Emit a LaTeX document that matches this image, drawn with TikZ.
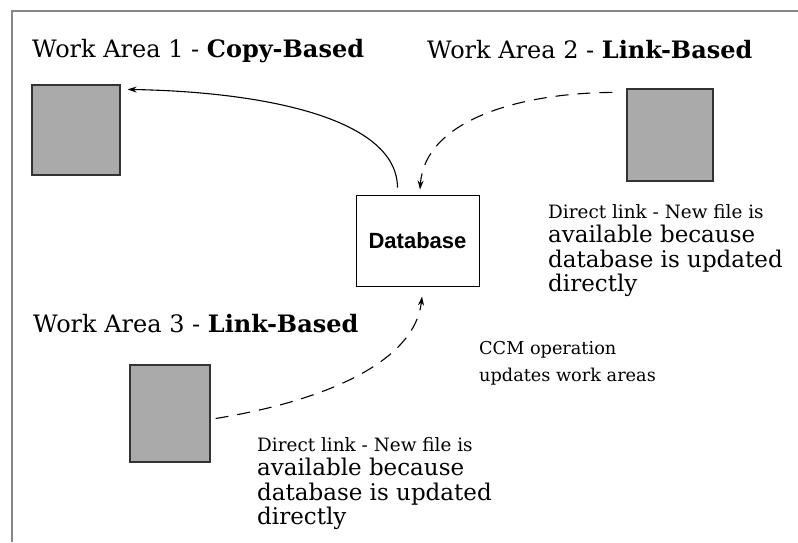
\documentclass[tikz,border=0pt]{standalone}
\usepackage{fontspec}
\setmainfont{DejaVu Serif}
\newfontfamily\dbfont{Liberation Sans}
\usepackage{tikz}
\usetikzlibrary{arrows.meta}
\definecolor{framegray}{RGB}{135,135,135}
\definecolor{areagray}{RGB}{170,170,170}
\tikzstyle{title} = [anchor=base west, inner sep=0pt, font=\fontsize{24}{28}\selectfont]
\tikzstyle{area} = [rectangle, draw=black!80, fill=areagray, line width=1.2pt]
\tikzstyle{store} = [rectangle, draw=black, fill=white, line width=1pt, minimum width=123pt, minimum height=91pt, font=\dbfont\bfseries\fontsize{22}{24}\selectfont]
\tikzstyle{note} = [anchor=north west, inner sep=0pt, align=left, font=\fontsize{23}{24.5}\selectfont]
\tikzstyle{copyarrow} = [line width=1.1pt, -{Stealth[length=9pt,width=6pt]}]
\tikzstyle{linkarrow} = [line width=1.1pt, dash pattern=on 13pt off 9pt, -{Stealth[length=9pt,width=6pt]}]

\begin{document}
\begin{tikzpicture}[x=1pt, y=-1pt]
\useasboundingbox (0,0) rectangle (798,542);
% outer frame, cut off on the right and at the bottom
\draw[framegray, line width=2.2pt] (12,542) -- (12,11) -- (798,11);

% titles
\node (t1) [title] at (32,57) {Work Area 1 - \textbf{Copy-Based}};
\node (t2) [title] at (427,58) {Work Area 2 - \textbf{Link-Based}};
\node (t3) [title] at (33,332) {Work Area 3 - \textbf{Link-Based}};

% work areas and the database
\node (wa1) [area, minimum width=88pt, minimum height=90pt] at (76,130) {};
\node (wa2) [area, minimum width=86pt, minimum height=92pt] at (670,135) {};
\node (wa3) [area, minimum width=80pt, minimum height=97pt] at (170,413.5) {};
\node (db) [store] at (417.5,240.5) {Database};

% notes
\node (n2) [note] at (548,204) {{\fontsize{18.4}{22}\selectfont Direct link - New file is}\\available because\\database is updated\\directly};
\node (n3) [note] at (257,437) {{\fontsize{18.4}{22}\selectfont Direct link - New file is}\\available because\\database is updated\\directly};
\node (ccm) [note, font=\fontsize{17.7}{27}\selectfont] at (479,341) {CCM operation\\updates work areas};

% connectors
\draw [copyarrow] ([xshift=-20pt,yshift=7pt]db.north) .. controls (397,120) and (270,92) .. ([xshift=7pt,yshift=-5pt]wa1.north east);
\draw [linkarrow] ([xshift=-14pt,yshift=-4pt]wa2.north west) .. controls (520,93) and (425,120) .. ([xshift=2.5pt,yshift=5pt]db.north);
\draw [linkarrow] ([xshift=5pt,yshift=-5pt]wa3.east) .. controls (330,400) and (415,360) .. ([xshift=4.5pt,yshift=-10pt]db.south);
\end{tikzpicture}
\end{document}
